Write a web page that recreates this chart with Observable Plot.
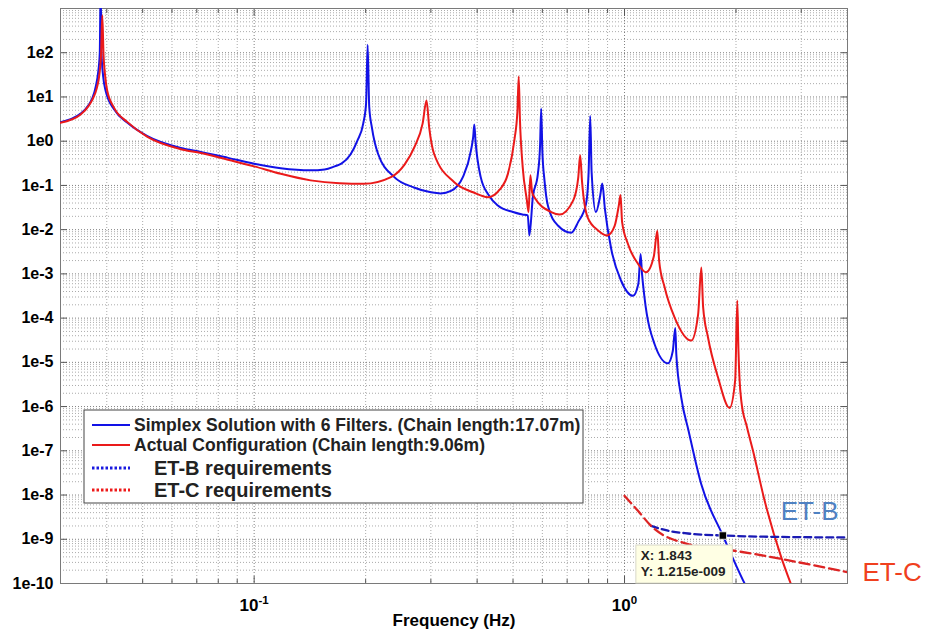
<!DOCTYPE html>
<html><head><meta charset="utf-8">
<script src="https://cdn.jsdelivr.net/npm/d3@7"></script>
<script src="https://cdn.jsdelivr.net/npm/@observablehq/plot@0.6"></script>
<style>
body{margin:0;background:#fff;}
#chart{width:930px;height:631px;}
</style></head><body><div id="chart"></div>
<script>
// ---- data ----
const simplexFreq = [0.030,0.034,0.0357,0.0366,0.0374,0.0379,0.0383,0.0385,0.0387,0.0391,0.0397,0.0419,0.0455,0.0515,0.0634,0.0718,0.085,0.10,0.118,0.142,0.155,0.165,0.172,0.182,0.19,0.197,0.2005,0.2025,0.2045,0.208,0.216,0.239,0.27,0.30,0.319,0.34,0.366,0.385,0.3905,0.393,0.396,0.409,0.43,0.455,0.50,0.53,0.548,0.5536,0.5654,0.5834,0.5915,0.5956,0.600,0.608,0.621,0.661,0.718,0.75,0.787,0.80,0.808,0.815,0.837,0.86,0.871,0.885,0.921,0.979,1.054,1.09,1.105,1.115,1.132,1.205,1.31,1.35,1.371,1.38,1.423,1.489,1.61,1.843,2.11,2.2];
const simplexAmp  = [2.7,4.2,6.5,9.5,18,35,100,3000,100,30,14,5.2,2.6,1.3,0.7,0.57,0.42,0.31,0.245,0.22,0.23,0.27,0.31,0.5,1.03,2.5,7,151,6,2.0,0.52,0.154,0.09,0.07,0.066,0.075,0.154,0.62,1.3,2.4,1.0,0.154,0.06,0.035,0.025,0.022,0.021,0.0074,0.054,0.18,0.8,5.4,0.6,0.13,0.035,0.0124,0.0085,0.015,0.038,0.2,3.7,0.2,0.025,0.06,0.11,0.03,0.0036,7e-4,3.2e-4,6e-4,2.8e-3,1e-3,3e-4,2.6e-5,9.5e-6,1.8e-5,6e-5,1.5e-5,1.6e-6,2.85e-7,1.8e-8,1.215e-9,1e-10,5e-11];

const actualFreq = [0.030,0.034,0.0357,0.0366,0.0376,0.0382,0.0386,0.0389,0.0392,0.0396,0.0401,0.0419,0.0455,0.0515,0.0634,0.0718,0.085,0.10,0.118,0.142,0.17,0.198,0.234,0.255,0.271,0.285,0.292,0.297,0.306,0.347,0.39,0.428,0.46,0.484,0.504,0.514,0.518,0.522,0.531,0.545,0.5505,0.557,0.563,0.571,0.634,0.668,0.727,0.75,0.759,0.768,0.795,0.85,0.898,0.94,0.965,0.9755,0.985,1.021,1.087,1.144,1.2,1.226,1.24,1.283,1.365,1.514,1.58,1.612,1.63,1.68,1.788,1.922,1.99,2.016,2.03,2.045,2.067,2.14,2.223,2.39,2.65,2.81,2.9];
const actualAmp  = [2.6,4.0,6.2,8.8,16,32,90,700,90,30,14,5.6,2.7,1.25,0.66,0.54,0.38,0.27,0.183,0.13,0.112,0.109,0.154,0.3,0.74,2.5,8.3,2.0,0.52,0.118,0.07,0.054,0.08,0.18,1.03,5,29,3,0.26,0.046,0.025,0.17,0.07,0.054,0.025,0.022,0.046,0.15,0.48,0.12,0.019,0.0095,0.0074,0.012,0.035,0.061,0.015,0.0048,1.7e-3,1.09e-3,2.5e-3,9.5e-3,2e-3,5e-4,1.04e-4,3.1e-5,1.2e-4,1.4e-3,1.8e-4,3.7e-5,4.6e-6,9.3e-7,4e-6,2.5e-4,2e-5,4e-6,1.35e-6,3.5e-7,1e-7,7.4e-9,3.9e-10,1e-10,5e-11];

const etbFreq = [1.18,1.31,1.484,1.843,2.44,4.0];
const etbAmp  = [2.0e-9,1.56e-9,1.35e-9,1.215e-9,1.14e-9,1.1e-9];
const etcFreq = [1.0,1.087,1.18,1.484,1.98,4.0];
const etcAmp  = [9.6e-9,4.4e-9,2.0e-9,7.8e-10,5.5e-10,1.8e-10];

const seriesNames = ["Simplex Solution with 6 Filters. (Chain length:17.07m)","Actual Configuration (Chain length:9.06m)","ET-B requirements","ET-C requirements"];
const endLabels = ["ET-B","ET-C"];
const xLabelTicks = [0.1, 1];
const yLabelTicks = [1e2,1e1,1e0,1e-1,1e-2,1e-3,1e-4,1e-5,1e-6,1e-7,1e-8,1e-9,1e-10];
const tipPoint = {x: 1.843, y: 1.215e-9, lines: ["X: 1.843","Y: 1.215e-009"]};

// ---- helpers ----
const rows = (f, a) => f.map((x, i) => ({x, y: a[i]}));
const simplex = rows(simplexFreq, simplexAmp);
const actual = rows(actualFreq, actualAmp);
const etb = rows(etbFreq, etbAmp);
const etc = rows(etcFreq, etcAmp);

const xMajor = [0.1, 1], xMinor = [];
for (let k = -2; k <= 0; k++) for (let m = 2; m <= 9; m++) { const v = m * 10 ** k; if (v >= 0.03 && v <= 4) xMinor.push(v); }
const yMajor = [], yMinor = [];
for (let k = -10; k <= 2; k++) { yMajor.push(10 ** k); for (let m = 2; m <= 9; m++) yMinor.push(m * 10 ** k); }

const BLUE = "#1212e6", RED = "#ea1a1a";

const chart = Plot.plot({
  width: 930, height: 631,
  marginLeft: 60, marginRight: 83, marginTop: 8, marginBottom: 48,
  x: {type: "log", domain: [0.03, 4]},
  y: {type: "log", domain: [1e-10, 1e3]},
  style: {fontFamily: "'Liberation Sans', Arial, sans-serif", fontSize: "16px", color: "#000", background: "#fff", overflow: "visible"},
  marks: [
    Plot.gridX(xMinor, {stroke: "#ababab", strokeOpacity: 1, strokeDasharray: "1,2"}),
    Plot.gridY(yMinor, {stroke: "#ababab", strokeOpacity: 1, strokeDasharray: "1,2"}),
    Plot.gridX(xMajor, {stroke: "#808080", strokeOpacity: 1, strokeDasharray: "1,2"}),
    Plot.gridY(yMajor, {stroke: "#808080", strokeOpacity: 1, strokeDasharray: "1,2"}),
    // inward ticks
    Plot.axisX(xMajor, {anchor: "bottom", tickSize: -7, tickFormat: () => "", label: null, stroke: "#555"}),
    Plot.axisX(xMinor, {anchor: "bottom", tickSize: -4, tickFormat: () => "", label: null, stroke: "#555"}),
    Plot.axisX(xMajor, {anchor: "top", tickSize: -7, tickFormat: () => "", label: null, stroke: "#555"}),
    Plot.axisX(xMinor, {anchor: "top", tickSize: -4, tickFormat: () => "", label: null, stroke: "#555"}),
    Plot.axisY(yMajor, {anchor: "left", tickSize: -7, tickFormat: () => "", label: null, stroke: "#555"}),
    Plot.axisY(yMajor, {anchor: "right", tickSize: -7, tickFormat: () => "", label: null, stroke: "#555"}),
    // labels
    Plot.axisY(yLabelTicks, {anchor: "left", tickSize: 0, tickPadding: 7, tickFormat: d => "1e" + Math.round(Math.log10(d)), label: null, fontWeight: "bold", fontSize: 16}),
    Plot.axisX(xLabelTicks, {anchor: "bottom", tickSize: 0, tickPadding: 15, tickFormat: d => String(Math.round(Math.log10(d))), label: null, fontWeight: "bold", fontSize: 17}),
    Plot.text(["Frequency (Hz)"], {frameAnchor: "bottom", dy: 42, lineAnchor: "bottom", fontWeight: "bold", fontSize: 17}),
    Plot.frame({stroke: "#7a7a7a"}),
    // data
    Plot.line(simplex, {x: "x", y: "y", stroke: BLUE, strokeWidth: 2, curve: "monotone-x", clip: true}),
    Plot.line(actual, {x: "x", y: "y", stroke: RED, strokeWidth: 2, curve: "monotone-x", clip: true}),
    Plot.line(etb, {x: "x", y: "y", stroke: "#1a1ab4", strokeWidth: 2.3, strokeDasharray: "7,4", curve: "monotone-x", clip: true}),
    Plot.line(etc, {x: "x", y: "y", stroke: "#dc2424", strokeWidth: 2.3, strokeDasharray: "10,5", curve: "monotone-x", clip: true}),
    Plot.text([etb[etb.length - 1]], {x: "x", y: "y", text: () => endLabels[0], textAnchor: "end", dx: -9, dy: -17, lineAnchor: "bottom", fill: "#4f81c2", fontSize: 26}),
    Plot.text([etc[etc.length - 1]], {x: "x", y: "y", text: () => endLabels[1], textAnchor: "start", dx: 15, dy: 9, lineAnchor: "bottom", fill: "#f0401e", fontSize: 26}),
    Plot.dot([tipPoint], {x: "x", y: "y", symbol: "square", r: 4.2, fill: "#000", stroke: "#fff", strokeWidth: 0.8})
  ]
});
document.getElementById("chart").appendChild(chart);

const svg = d3.select(chart);
// remove the empty tick-label texts of the tick-only axes
svg.selectAll("text").filter(function () { return this.textContent === ""; }).remove();
// superscript exponents on x tick labels
svg.selectAll("g[aria-label='x-axis tick label'] text").each(function () {
  const t = d3.select(this); const e = t.text();
  if (!e) return;
  t.text("10"); t.append("tspan").attr("dy", "-0.55em").attr("font-size", "11.5px").text(e);
});

// datatip
const sx = chart.scale("x"), sy = chart.scale("y");
const px = sx.apply(tipPoint.x), py = sy.apply(tipPoint.y);
const tipG = svg.append("g").attr("text-anchor", "start");
tipG.append("rect").attr("x", px - 86.5).attr("y", py + 10).attr("width", 96.5).attr("height", 38)
  .attr("fill", "#ffffe4").attr("stroke", "#d8d8c8").attr("stroke-width", 1);
tipPoint.lines.forEach((s, i) => tipG.append("text").attr("x", px - 81.5).attr("y", py + 25 + i * 16)
  .attr("font-size", "13.5px").attr("font-weight", "bold").attr("fill", "#222").text(s));
svg.node().appendChild(svg.select("g[aria-label='dot']").node());

// legend
const lg = svg.append("g").attr("font-family", "'Liberation Sans', Arial, sans-serif").attr("text-anchor", "start");
lg.append("rect").attr("x", 84).attr("y", 410).attr("width", 499).attr("height", 93).attr("fill", "#fff").attr("stroke", "#444").attr("stroke-width", 1);
const legendRows = [
  {y: 425, color: BLUE, dash: null, tx: 134, fs: 17.5},
  {y: 445, color: RED, dash: null, tx: 134, fs: 17.5},
  {y: 468, color: "#1a1ae0", dash: "2.5,2", tx: 154, fs: 20},
  {y: 490, color: "#ee1a1a", dash: "2.5,2", tx: 154, fs: 20}
];
legendRows.forEach((r, i) => {
  lg.append("line").attr("x1", 92).attr("x2", 130).attr("y1", r.y).attr("y2", r.y)
    .attr("stroke", r.color).attr("stroke-width", r.dash ? 3 : 2.2).attr("stroke-dasharray", r.dash);
  lg.append("text").attr("x", r.tx).attr("y", r.y).attr("dy", "0.36em").attr("font-size", r.fs + "px")
    .attr("font-weight", "bold").attr("fill", "#222").text(seriesNames[i]);
});
</script></body></html>
